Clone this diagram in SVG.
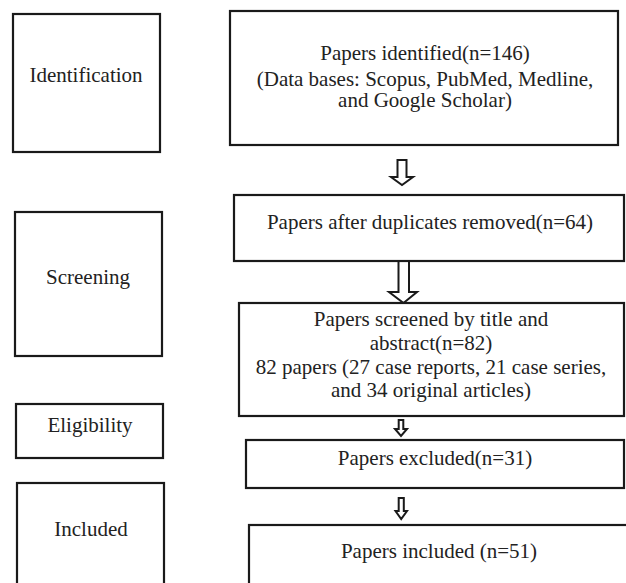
<svg xmlns="http://www.w3.org/2000/svg" width="626" height="583" viewBox="0 0 626 583">
<style>
.box{fill:#fff;stroke:#1a1a1a;stroke-width:2.2}
.t{font-family:"Liberation Serif","Times New Roman",serif;font-size:21px;fill:#222;text-anchor:middle}
.arr{fill:#fff;stroke:#1a1a1a;stroke-width:2;stroke-linejoin:miter}
</style>
<rect width="626" height="583" fill="#fff"/>
<g id="connectors">
<path class="arr" d="M397.5,160 L406.5,160 L406.5,177 L413,177 L402,185 L391,177 L397.5,177 Z"/>
<path class="arr" d="M398.5,261 L409,261 L409,292 L417,292 L403.5,303 L389,292 L398.5,292 Z"/>
<path class="arr" d="M398.7,420 L403.3,420 L403.3,429 L407,429 L401,436 L395,429 L398.7,429 Z"/>
<path class="arr" d="M398.7,498 L403.8,498 L403.8,511 L407,511 L401.2,519 L395.5,511 L398.7,511 Z"/>
</g>
<g id="identification">
<rect class="box" x="13" y="14" width="147" height="138"/>
<text class="t" x="86" y="82">Identification</text>
</g>
<g id="identified">
<rect class="box" x="230" y="11" width="388" height="134"/>
<text class="t" x="425" y="60">Papers identified(n=146)</text>
<text class="t" x="425" y="86">(Data bases: Scopus, PubMed, Medline,</text>
<text class="t" x="425" y="107">and Google Scholar)</text>
</g>
<g id="duplicates">
<rect class="box" x="234" y="195" width="390" height="66"/>
<text class="t" x="430" y="229">Papers after duplicates removed(n=64)</text>
</g>
<g id="screening">
<rect class="box" x="15" y="212" width="147" height="144"/>
<text class="t" x="88" y="284">Screening</text>
</g>
<g id="screened">
<rect class="box" x="239" y="303" width="385" height="113"/>
<text class="t" x="431" y="326">Papers screened by title and</text>
<text class="t" x="431" y="350">abstract(n=82)</text>
<text class="t" x="431" y="374">82 papers (27 case reports, 21 case series,</text>
<text class="t" x="431" y="397">and 34 original articles)</text>
</g>
<g id="eligibility">
<rect class="box" x="16" y="404" width="147" height="54"/>
<text class="t" x="90" y="432">Eligibility</text>
</g>
<g id="excluded">
<rect class="box" x="246" y="440" width="378" height="48"/>
<text class="t" x="435" y="465">Papers excluded(n=31)</text>
</g>
<g id="included-label">
<rect class="box" x="17" y="483" width="147" height="120"/>
<text class="t" x="91" y="536">Included</text>
</g>
<g id="included">
<rect class="box" x="249" y="525" width="400" height="80"/>
<text class="t" x="439" y="558">Papers included (n=51)</text>
</g>
</svg>
